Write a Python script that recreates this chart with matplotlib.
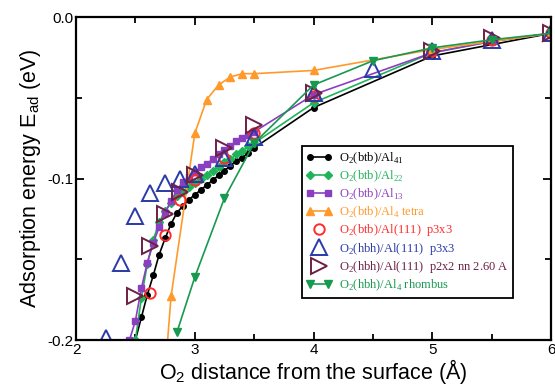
import matplotlib
matplotlib.use("Agg")
import matplotlib.pyplot as plt
from matplotlib.ticker import MultipleLocator
from matplotlib.legend_handler import HandlerLine2D

plt.rcParams["mathtext.fontset"] = "custom"
plt.rcParams["mathtext.rm"] = "Liberation Serif"
plt.rcParams["mathtext.sf"] = "Liberation Sans"

# O2(btb)/Al41
x_al41 = [2.5, 2.55, 2.6, 2.65, 2.7, 2.75, 2.8, 2.85, 2.9, 2.95, 3.0, 3.05, 3.1,
          3.15, 3.2, 3.25, 3.3, 3.35, 3.4, 3.45, 3.5, 4.0, 5.0, 6.0]
y_al41 = [-0.200, -0.186, -0.172, -0.160, -0.147, -0.137, -0.128, -0.121, -0.117,
          -0.113, -0.110, -0.107, -0.104, -0.101, -0.098, -0.095, -0.092, -0.089,
          -0.087, -0.084, -0.081, -0.056, -0.024, -0.010]
# O2(btb)/Al22
x_al22 = [2.5, 2.55, 2.6, 2.65, 2.7, 2.75, 2.8, 2.85, 2.9, 2.95, 3.0, 3.05, 3.1,
          3.15, 3.2, 3.25, 3.3, 3.35, 3.4, 3.45, 3.5, 4.0, 5.0, 5.5, 6.0]
y_al22 = [-0.200, -0.174, -0.153, -0.138, -0.127, -0.120, -0.115, -0.111, -0.108,
          -0.105, -0.103, -0.100, -0.098, -0.095, -0.093, -0.090, -0.088, -0.085,
          -0.083, -0.080, -0.078, -0.053, -0.022, -0.015, -0.010]
# O2(btb)/Al13
x_al13 = [2.45, 2.5, 2.55, 2.6, 2.65, 2.7, 2.75, 2.8, 2.85, 2.9, 2.95, 3.0, 3.05,
          3.1, 3.15, 3.2, 3.25, 3.3, 3.35, 3.4, 3.45, 3.5, 4.0, 5.0, 5.5, 6.0]
y_al13 = [-0.200, -0.188, -0.168, -0.152, -0.140, -0.130, -0.121, -0.114, -0.107,
          -0.102, -0.099, -0.096, -0.093, -0.091, -0.088, -0.085, -0.082, -0.080,
          -0.077, -0.075, -0.073, -0.071, -0.048, -0.022, -0.015, -0.010]
# O2(btb)/Al4 tetra
x_tetra = [2.75, 2.8, 3.0, 3.1, 3.2, 3.3, 3.4, 3.5, 4.0, 5.0, 6.0]
y_tetra = [-0.220, -0.173, -0.072, -0.051, -0.042, -0.037, -0.035, -0.035,
           -0.033, -0.020, -0.010]
# O2(btb)/Al(111) p3x3
x_btb111 = [2.625, 2.75, 2.875, 3.0, 3.25, 3.5, 4.0, 5.0, 5.5, 6.0]
y_btb111 = [-0.171, -0.135, -0.113, -0.101, -0.087, -0.072, -0.049, -0.021,
            -0.014, -0.010]
# O2(hbh)/Al(111) p3x3
x_hbh111 = [2.25, 2.375, 2.5, 2.625, 2.75, 2.875, 3.0, 3.25, 3.5, 4.0, 4.5, 5.0,
            5.5, 6.0]
y_hbh111 = [-0.199, -0.152, -0.123, -0.109, -0.103, -0.100, -0.097, -0.087,
            -0.074, -0.047, -0.032, -0.021, -0.014, -0.010]
# O2(hbh)/Al(111) p2x2 nn 2.60 A
x_p2x2 = [2.5, 2.625, 2.75, 2.875, 3.0, 3.25, 3.5, 4.0, 5.0, 5.5, 6.0]
y_p2x2 = [-0.173, -0.142, -0.122, -0.108, -0.098, -0.081, -0.067, -0.047,
          -0.021, -0.013, -0.010]
# O2(hbh)/Al4 rhombus
x_rhomb = [2.85, 3.0, 3.25, 3.5, 4.0, 4.5, 5.0, 5.5, 6.0]
y_rhomb = [-0.195, -0.161, -0.112, -0.078, -0.042, -0.027, -0.019, -0.014, -0.010]

labels = [
    r"O$_2$(btb)/Al$_{41}$",
    r"O$_2$(btb)/Al$_{22}$",
    r"O$_2$(btb)/Al$_{13}$",
    r"O$_2$(btb)/Al$_4$ tetra",
    r"O$_2$(btb)/Al(111)  p3x3",
    r"O$_2$(hbh)/Al(111)  p3x3",
    r"O$_2$(hbh)/Al(111)  p2x2 nn 2.60 A",
    r"O$_2$(hbh)/Al$_4$ rhombus",
]
colors = ["black", "#1fb35a", "#8a3fc0", "#ff9a2a", "#ff2a2a", "#2a3aa8",
          "#6e1f45", "#17994f"]

fig = plt.figure(figsize=(5.55, 3.9), dpi=100)
ax = fig.add_axes([0.137, 0.128, 0.856, 0.828])

ax.plot(x_al41, y_al41, "-o", color=colors[0], ms=4, lw=1.2, label=labels[0])
ax.plot(x_al22, y_al22, "-D", color=colors[1], ms=4, lw=1.2, label=labels[1])
ax.plot(x_al13, y_al13, "-s", color=colors[2], ms=4, lw=1.2, label=labels[2])
ax.plot(x_tetra, y_tetra, "-^", color=colors[3], ms=5.5, lw=1.2, label=labels[3])
p_red, = ax.plot(x_btb111, y_btb111, "o", color=colors[4], mfc="none", mew=1.4,
                 ms=7.5, label=labels[4])
p_blue, = ax.plot(x_hbh111, y_hbh111, "^", color=colors[5], mfc="none", mew=1.4,
                  ms=11, label=labels[5])
p_mar, = ax.plot(x_p2x2, y_p2x2, ">", color=colors[6], mfc="none", mew=1.4,
                 ms=11, label=labels[6])
ax.plot(x_rhomb, y_rhomb, "-v", color=colors[7], ms=6, lw=1.2, label=labels[7])

ax.set_xlim(2, 6)
ax.set_ylim(-0.2, 0.0)
ax.xaxis.set_major_locator(MultipleLocator(1))
ax.xaxis.set_minor_locator(MultipleLocator(0.5))
ax.yaxis.set_major_locator(MultipleLocator(0.1))
ax.yaxis.set_minor_locator(MultipleLocator(0.05))
ax.yaxis.set_major_formatter(plt.FuncFormatter(lambda v, p: f"{v:.1f}".replace("-0.0", "0.0")))
ax.tick_params(which="both", direction="in", top=True, right=True, width=1.3,
               labelsize=11, pad=2)
ax.tick_params(which="major", length=6)
ax.tick_params(which="minor", length=4)
for lab in ax.get_xticklabels() + ax.get_yticklabels():
    lab.set_family("Liberation Sans")
for s in ax.spines.values():
    s.set_linewidth(1.6)

ax.set_xlabel(r"O$_\mathsf{2}$ distance from the surface (Å)", family="Liberation Sans",
              fontsize=15.5, labelpad=0)
ax.set_ylabel(r"Adsorption energy E$_\mathsf{ad}$ (eV)", family="Liberation Sans",
              fontsize=15.5, labelpad=3)

one = HandlerLine2D(numpoints=1)
leg = ax.legend(loc="upper left", bbox_to_anchor=(0.463, 0.62),
                prop={"family": "Liberation Serif", "size": 9}, labelspacing=0.2,
                numpoints=2, handlelength=2.0, handletextpad=0.6, borderpad=0.35,
                fancybox=False, framealpha=1, edgecolor="black",
                handler_map={p_red: one, p_blue: one, p_mar: one})
leg.get_frame().set_linewidth(1.3)
for t, c in zip(leg.get_texts(), colors):
    t.set_color(c)

fig.savefig("out.png", dpi=100)
